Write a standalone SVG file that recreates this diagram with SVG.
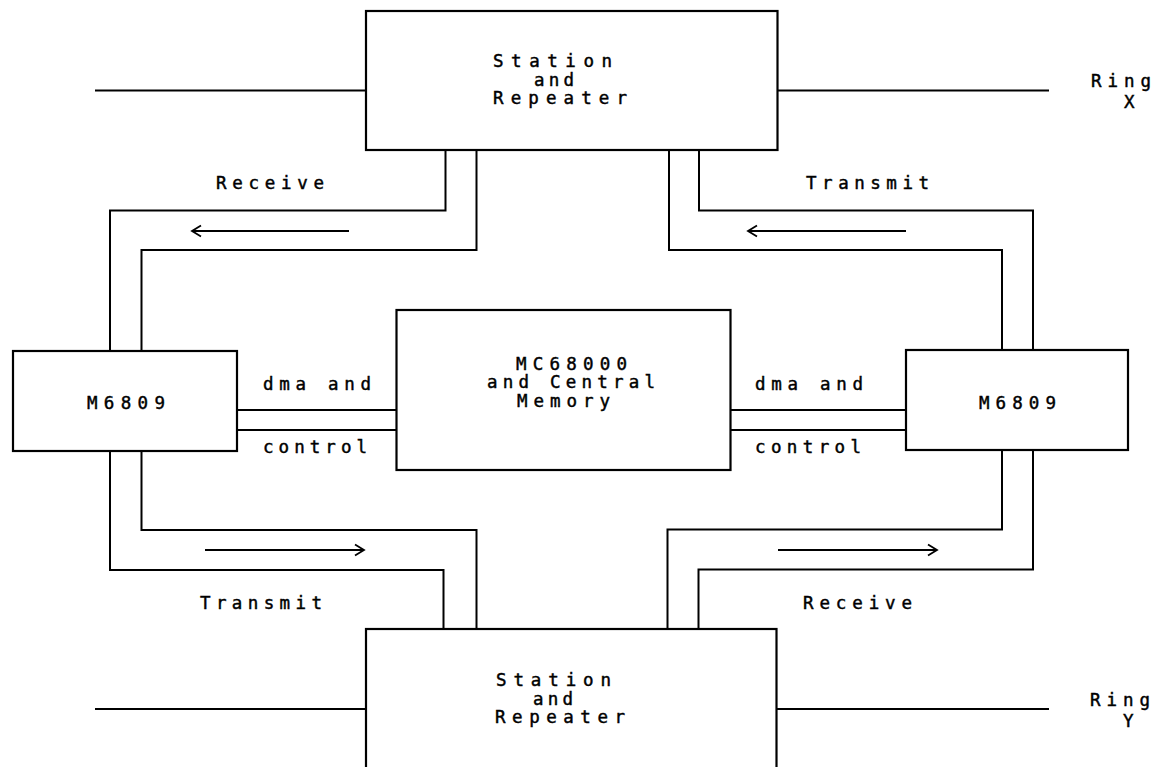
<svg xmlns="http://www.w3.org/2000/svg" width="1161" height="767" viewBox="0 0 1161 767">
  <style>
    .box { fill: #fff; stroke: #000; stroke-width: 2.2; }
    .wire { fill: none; stroke: #000; stroke-width: 2; }
    .flow { fill: none; stroke: #000; stroke-width: 1.8; }
    text { font-family: "DejaVu Sans Mono", "Liberation Mono", monospace; font-size: 17.5px; fill: #000; stroke: #000; stroke-width: 0.45; }
  </style>
  <defs>
    <marker id="head" markerUnits="userSpaceOnUse" markerWidth="14" markerHeight="14" viewBox="-11 -7 12 14" refX="0" refY="0" orient="auto">
      <path d="M-9,-5.5 L0,0 L-9,5.5" fill="none" stroke="#000" stroke-width="1.8"/>
    </marker>
  </defs>
  <rect width="1161" height="767" fill="#fff"/>

  <!-- buses and data paths -->
  <g id="connectors">
    <!-- ring X -->
    <line class="wire" x1="95" y1="90.5" x2="366" y2="90.5"/>
    <line class="wire" x1="777" y1="90.5" x2="1049" y2="90.5"/>
    <!-- ring Y -->
    <line class="wire" x1="95" y1="709" x2="366" y2="709"/>
    <line class="wire" x1="777" y1="709" x2="1049" y2="709"/>

    <!-- receive path, ring X station to left M6809 -->
    <polyline class="wire" points="445.5,150 445.5,210.5 110,210.5 110,351"/>
    <polyline class="wire" points="476.5,150 476.5,250 141.5,250 141.5,351"/>
    <line class="flow" x1="349" y1="231" x2="192" y2="231" marker-end="url(#head)"/>

    <!-- transmit path, right M6809 to ring X station -->
    <polyline class="wire" points="699,150 699,210.5 1033,210.5 1033,351"/>
    <polyline class="wire" points="669,150 669,250 1002,250 1002,351"/>
    <line class="flow" x1="906" y1="231" x2="748" y2="231" marker-end="url(#head)"/>

    <!-- transmit path, left M6809 to ring Y station -->
    <polyline class="wire" points="110,451 110,570 443.5,570 443.5,629"/>
    <polyline class="wire" points="141.5,451 141.5,530 476.5,530 476.5,629"/>
    <line class="flow" x1="205" y1="550" x2="364" y2="550" marker-end="url(#head)"/>

    <!-- receive path, ring Y station to right M6809 -->
    <polyline class="wire" points="1002,450 1002,529.5 667.5,529.5 667.5,629"/>
    <polyline class="wire" points="1033,450 1033,569.5 698.5,569.5 698.5,629"/>
    <line class="flow" x1="778" y1="550" x2="937" y2="550" marker-end="url(#head)"/>

    <!-- dma and control links -->
    <line class="wire" x1="237" y1="410" x2="396.5" y2="410"/>
    <line class="wire" x1="237" y1="430" x2="396.5" y2="430"/>
    <line class="wire" x1="730.5" y1="410" x2="906" y2="410"/>
    <line class="wire" x1="730.5" y1="430" x2="906" y2="430"/>
  </g>

  <!-- connector labels -->
  <g id="labels">
    <text x="216" y="189" textLength="108" lengthAdjust="spacing">Receive</text>
    <text x="806" y="189" textLength="123" lengthAdjust="spacing">Transmit</text>
    <text x="200" y="609" textLength="122" lengthAdjust="spacing">Transmit</text>
    <text x="803" y="609" textLength="109" lengthAdjust="spacing">Receive</text>
    <text x="263" y="390" textLength="108" lengthAdjust="spacing">dma and</text>
    <text x="263" y="453" textLength="104" lengthAdjust="spacing">control</text>
    <text x="755" y="390" textLength="108" lengthAdjust="spacing">dma and</text>
    <text x="755" y="453" textLength="106" lengthAdjust="spacing">control</text>
    <text x="1091" y="87" textLength="60" lengthAdjust="spacing">Ring</text>
    <text x="1124" y="108">X</text>
    <text x="1090" y="706" textLength="60" lengthAdjust="spacing">Ring</text>
    <text x="1123" y="727">Y</text>
  </g>

  <g id="station-x">
    <rect class="box" x="366" y="11" width="411.5" height="139"/>
    <text x="493" y="66.5" textLength="119" lengthAdjust="spacing">Station</text>
    <text x="534" y="85.5" textLength="40" lengthAdjust="spacing">and</text>
    <text x="493" y="104" textLength="134" lengthAdjust="spacing">Repeater</text>
  </g>

  <g id="station-y">
    <rect class="box" x="366" y="629" width="410.5" height="160"/>
    <text x="496" y="685.5" textLength="115" lengthAdjust="spacing">Station</text>
    <text x="533" y="704.5" textLength="40" lengthAdjust="spacing">and</text>
    <text x="495" y="723" textLength="130" lengthAdjust="spacing">Repeater</text>
  </g>

  <g id="m6809-left">
    <rect class="box" x="13" y="351" width="224" height="100"/>
    <text x="87" y="409" textLength="78" lengthAdjust="spacing">M6809</text>
  </g>

  <g id="m6809-right">
    <rect class="box" x="906" y="350" width="222" height="100"/>
    <text x="979" y="409" textLength="77" lengthAdjust="spacing">M6809</text>
  </g>

  <g id="mc68000">
    <rect class="box" x="396.5" y="310" width="334" height="160"/>
    <text x="516" y="369.5" textLength="111" lengthAdjust="spacing">MC68000</text>
    <text x="487" y="388" textLength="168" lengthAdjust="spacing">and Central</text>
    <text x="517" y="406.5" textLength="93" lengthAdjust="spacing">Memory</text>
  </g>
</svg>
